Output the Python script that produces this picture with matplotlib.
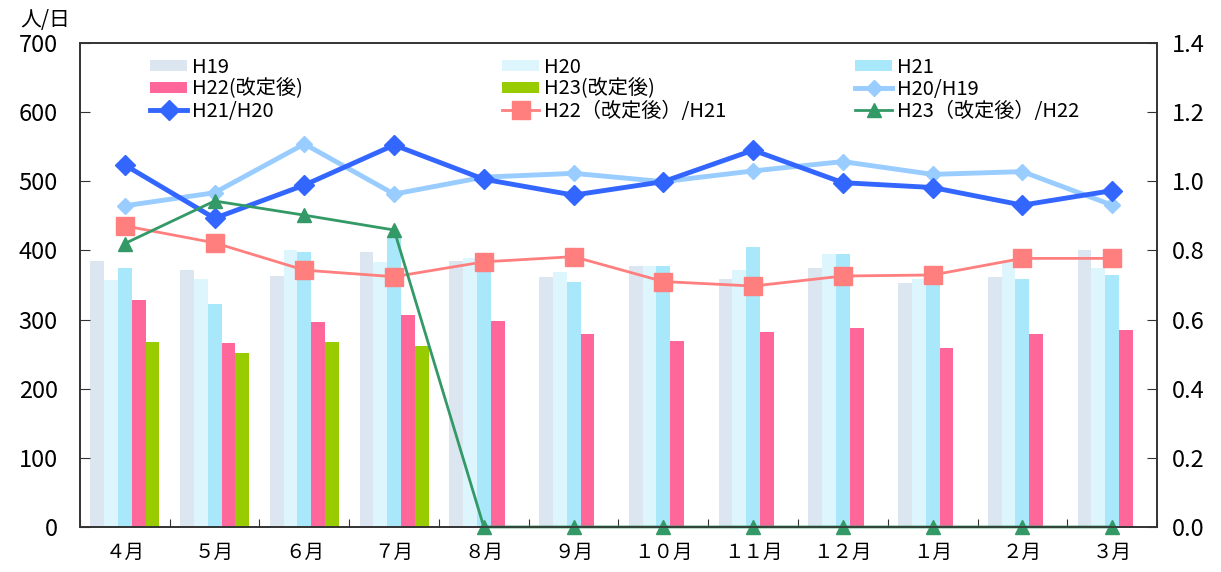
import matplotlib.pyplot as plt
import numpy as np

plt.rcParams['font.family'] = ['Noto Sans CJK JP', 'DejaVu Sans']

months = ['４月', '５月', '６月', '７月', '８月', '９月', '１０月', '１１月', '１２月', '１月', '２月', '３月']

h19 = [385, 372, 363, 398, 385, 362, 378, 359, 375, 353, 362, 401]
h20 = [357, 359, 400, 383, 389, 369, 378, 372, 395, 359, 385, 375]
h21 = [375, 323, 398, 418, 382, 354, 378, 405, 395, 360, 359, 365]
h22 = [328, 266, 297, 307, 298, 279, 269, 282, 288, 259, 279, 285]
h23 = [268, 252, 268, 262, 0, 0, 0, 0, 0, 0, 0, 0]

r20_19 = [0.929, 0.967, 1.108, 0.963, 1.012, 1.023, 0.999, 1.030, 1.057, 1.020, 1.028, 0.931]
r21_20 = [1.047, 0.893, 0.989, 1.105, 1.006, 0.960, 0.999, 1.090, 0.996, 0.982, 0.931, 0.973]
r22_21 = [0.871, 0.822, 0.743, 0.724, 0.767, 0.782, 0.710, 0.697, 0.726, 0.729, 0.777, 0.777]
r23_22 = [0.820, 0.943, 0.902, 0.859, 0, 0, 0, 0, 0, 0, 0, 0]

fig = plt.figure(figsize=(12.21, 5.72), dpi=100)
ax = fig.add_axes([0.0655, 0.0787, 0.8821, 0.8461])
ax2 = ax.twinx()

x = np.arange(len(months))
w = 0.154
bars = []
for i, (vals, col, lab) in enumerate([(h19, '#DCE6F1', 'H19'), (h20, '#DDF5FD', 'H20'),
                                      (h21, '#A9E7FB', 'H21'), (h22, '#FF6699', 'H22(改定後)'),
                                      (h23, '#99CC00', 'H23(改定後)')]):
    b = ax.bar(x + (i - 2) * w, vals, w, color=col, label=lab, linewidth=0)
    bars.append(b)

l1, = ax2.plot(x, r20_19, color='#99CCFF', lw=3.5, marker='D', ms=8, label='H20/H19', clip_on=False)
l2, = ax2.plot(x, r21_20, color='#3366FF', lw=3.5, marker='D', ms=10, label='H21/H20', clip_on=False)
l3, = ax2.plot(x, r22_21, color='#FF7F7F', lw=2, marker='s', ms=13, label='H22（改定後）/H21', clip_on=False)
l4, = ax2.plot(x, r23_22, color='#339966', lw=2, marker='^', ms=10, label='H23（改定後）/H22', clip_on=False)

ax.set_xlim(-0.5, 11.5)
ax.set_ylim(0, 700)
ax2.set_ylim(0, 1.4)
ax.set_yticks(range(0, 701, 100))
ax2.set_yticks(np.arange(0, 1.41, 0.2))
ax2.set_yticklabels(['%.1f' % v for v in np.arange(0, 1.41, 0.2)])

ax.set_xticks(np.arange(-0.5, 12, 1))
ax.set_xticklabels([])
ax.set_xticks(x, minor=True)
ax.set_xticklabels(months, minor=True, fontsize=14)
ax.tick_params(axis='x', which='major', direction='in', length=6, color='#333333')
ax.tick_params(axis='x', which='minor', length=0, pad=11)
ax.tick_params(axis='y', direction='in', length=7, pad=16, labelsize=17, color='#333333')
ax2.tick_params(axis='y', direction='in', length=7, pad=11, labelsize=17, color='#333333')

for a in (ax, ax2):
    for s in a.spines.values():
        s.set_color('#333333')
        s.set_linewidth(1.2)

fig.text(0.017, 0.955, '人/日', fontsize=15)

# 凡例は3列を別々に配置
cols = [[bars[0], bars[3], l2], [bars[1], bars[4], l3], [bars[2], l1, l4]]
xs = [0.065, 0.392, 0.7196]
legs = []
for hs, x0 in zip(cols, xs):
    leg = ax2.legend(handles=hs, loc='upper left', bbox_to_anchor=(x0, 0.972),
                     frameon=False, fontsize=14.5, handlelength=1.85, handleheight=0.5,
                     handletextpad=0.25, labelspacing=0.05, borderaxespad=0, borderpad=0)
    legs.append(leg)
for leg in legs[:-1]:
    ax2.add_artist(leg)

fig.savefig('out.png', dpi=100)
